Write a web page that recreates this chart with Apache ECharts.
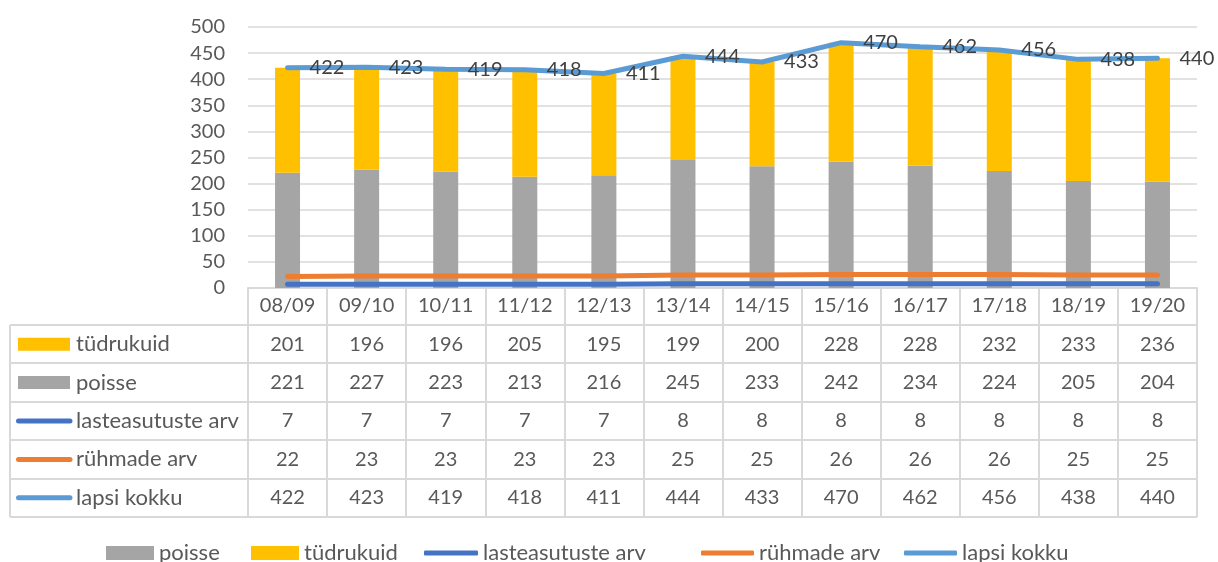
<!DOCTYPE html>
<html><head><meta charset="utf-8">
<script src="https://cdn.jsdelivr.net/npm/echarts@6/dist/echarts.min.js"></script>
<style>html,body{margin:0;padding:0;background:#fff}#c{width:1218px;height:562px}</style>
</head><body><div id="c"></div><script>
const categories = ['08/09','09/10','10/11','11/12','12/13','13/14','14/15','15/16','16/17','17/18','18/19','19/20'];
const tudrukuid = [201,196,196,205,195,199,200,228,228,232,233,236];
const poisse = [221,227,223,213,216,245,233,242,234,224,205,204];
const lasteasutusteArv = [7,7,7,7,7,8,8,8,8,8,8,8];
const ruhmadeArv = [22,23,23,23,23,25,25,26,26,26,25,25];
const lapsiKokku = [422,423,419,418,411,444,433,470,462,456,438,440];
const yMin = 0, yMax = 500, yStep = 50;

const FONT = 'Lato';
const TXT = '#595959';
const GRIDC = '#D9D9D9';
const COLORS = {poisse:'#A5A5A5', tudrukuid:'#FFC000', lasteasutuste:'#4472C4', ruhmade:'#ED7D31', lapsi:'#5B9BD5'};
const NUM_SIZE = 20, WORD_SIZE = 22;

const chart = echarts.init(document.getElementById('c'));
const legendItems = [
  {name:'poisse', icon:'rect', left:106, w:48, h:14},
  {name:'tüdrukuid', icon:'rect', left:251, w:48, h:14},
  {name:'lasteasutuste arv', icon:'roundRect', left:424, w:54, h:5},
  {name:'rühmade arv', icon:'roundRect', left:701, w:53, h:5},
  {name:'lapsi kokku', icon:'roundRect', left:904, w:53, h:5}
];
const option = {
  animation: false,
  textStyle: {fontFamily: FONT},
  grid: {left: 248, right: 21, top: 27, bottom: 274, containLabel: false},
  xAxis: {
    type: 'category', data: categories, boundaryGap: true,
    axisLine: {lineStyle: {color: GRIDC, width: 2}},
    axisTick: {show: true, length: 229, lineStyle: {color: GRIDC, width: 2}},
    axisLabel: {fontSize: NUM_SIZE, color: TXT, margin: 8, fontFamily: FONT}
  },
  yAxis: {
    type: 'value', min: yMin, max: yMax, interval: yStep,
    axisLine: {show: false}, axisTick: {show: false},
    splitLine: {lineStyle: {color: GRIDC, width: 1.5}},
    axisLabel: {fontSize: NUM_SIZE, color: TXT, margin: 23, fontFamily: FONT}
  },
  legend: legendItems.map(it => ({
    data: [{name: it.name, icon: it.icon}], left: it.left, top: 542,
    itemWidth: it.w, itemHeight: it.h, padding: 0,
    textStyle: {fontSize: WORD_SIZE, color: TXT, fontFamily: FONT}
  })),
  series: [
    {name:'poisse', type:'bar', stack:'k', data: poisse, barWidth: 25, itemStyle:{color: COLORS.poisse}},
    {name:'tüdrukuid', type:'bar', stack:'k', data: tudrukuid, barWidth: 25, itemStyle:{color: COLORS.tudrukuid}},
    {name:'lasteasutuste arv', type:'line', data: lasteasutusteArv, symbol:'none',
     lineStyle:{color: COLORS.lasteasutuste, width: 5, cap:'round'}, itemStyle:{color: COLORS.lasteasutuste}},
    {name:'rühmade arv', type:'line', data: ruhmadeArv, symbol:'none',
     lineStyle:{color: COLORS.ruhmade, width: 5, cap:'round'}, itemStyle:{color: COLORS.ruhmade}},
    {name:'lapsi kokku', type:'line', data: lapsiKokku, symbol:'circle', symbolSize: 2, showSymbol: true,
     lineStyle:{color: COLORS.lapsi, width: 5, cap:'round'}, itemStyle:{color: COLORS.lapsi},
     label:{show:true, position:'right', distance: 21, fontSize: NUM_SIZE, color:'#404040', fontFamily: FONT}}
  ]
};
chart.setOption(option);

// data table below the axis
const tableRows = [
  {name:'tüdrukuid', data: tudrukuid, color: COLORS.tudrukuid, kind:'bar'},
  {name:'poisse', data: poisse, color: COLORS.poisse, kind:'bar'},
  {name:'lasteasutuste arv', data: lasteasutusteArv, color: COLORS.lasteasutuste, kind:'line'},
  {name:'rühmade arv', data: ruhmadeArv, color: COLORS.ruhmade, kind:'line'},
  {name:'lapsi kokku', data: lapsiKokku, color: COLORS.lapsi, kind:'line'}
];
const tableTop = 325, rowH = 38.4, tableLeft = 10;
const plotRight = chart.convertToPixel({xAxisIndex:0}, categories.length - 1) +
  (chart.convertToPixel({xAxisIndex:0}, 1) - chart.convertToPixel({xAxisIndex:0}, 0)) / 2;
const els = [];
for (let k = 0; k <= tableRows.length; k++) {
  const y = Math.round(tableTop + rowH * k);
  els.push({type:'line', silent:true, shape:{x1: tableLeft, y1: y, x2: plotRight, y2: y}, style:{stroke: GRIDC, lineWidth: 2}});
}
els.push({type:'line', silent:true, shape:{x1: tableLeft, y1: tableTop, x2: tableLeft, y2: Math.round(tableTop + rowH*tableRows.length)}, style:{stroke: GRIDC, lineWidth: 2}});
tableRows.forEach((r, ri) => {
  const yc = tableTop + rowH * (ri + 0.5);
  r.data.forEach((v, i) => {
    const x = chart.convertToPixel({xAxisIndex:0}, i);
    els.push({type:'text', silent:true, x: x, y: yc, style:{text: String(v), fill: TXT, font: NUM_SIZE + 'px ' + FONT, align:'center', verticalAlign:'middle'}});
  });
  if (r.kind === 'bar') {
    els.push({type:'rect', silent:true, shape:{x: 18, y: yc - 6.5, width: 52, height: 13}, style:{fill: r.color}});
  } else {
    els.push({type:'line', silent:true, shape:{x1: 18.5, y1: yc, x2: 70, y2: yc}, style:{stroke: r.color, lineWidth: 5, lineCap:'round'}});
  }
  els.push({type:'text', silent:true, x: 76, y: yc, style:{text: r.name, fill: TXT, font: WORD_SIZE + 'px ' + FONT, align:'left', verticalAlign:'middle'}});
});
chart.setOption({graphic: {elements: els}});
</script></body></html>
